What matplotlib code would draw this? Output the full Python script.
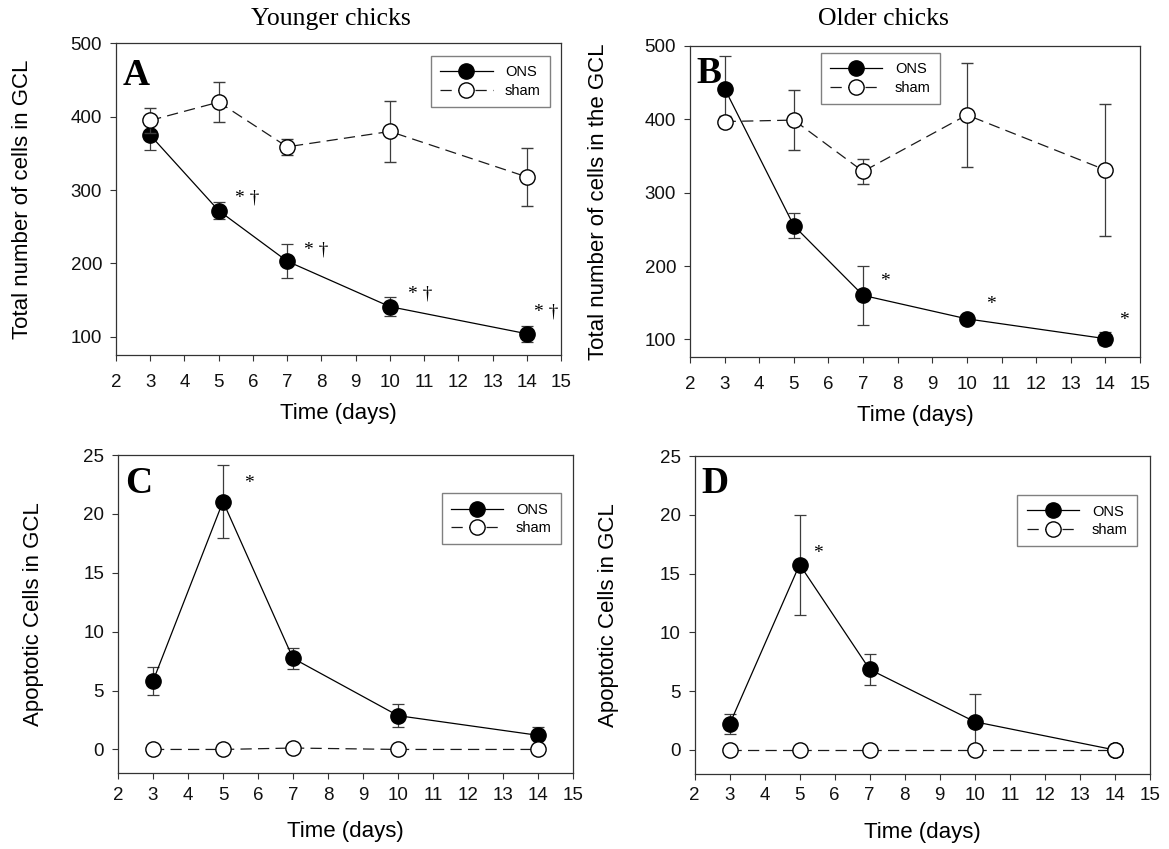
import matplotlib
matplotlib.use('Agg')
import matplotlib.pyplot as plt

plt.rcParams['font.family'] = ['Liberation Sans', 'DejaVu Sans']

days = [3, 5, 7, 10, 14]
series_names = ['ONS', 'sham']

# A - younger chicks, total cells
a_ons = [375, 272, 203, 141, 104]
a_ons_err = [20, 12, 23, 13, 11]
a_sham = [395, 420, 359, 380, 318]
a_sham_err = [17, 27, 11, 41, 40]
a_marks = ['', '* \u2020', '* \u2020', '* \u2020', '* \u2020']

# B - older chicks, total cells
b_ons = [442, 255, 160, 128, 101]
b_ons_err = [44, 17, 40, 5, 9]
b_sham = [397, 399, 329, 406, 331]
b_sham_err = [8, 41, 17, 71, 90]
b_marks = ['', '', '*', '*', '*']

# C - younger chicks, apoptotic cells
c_ons = [5.8, 21.05, 7.74, 2.87, 1.2]
c_ons_err = [1.2, 3.1, 0.9, 0.95, 0.7]
c_sham = [0, 0, 0.12, 0, 0]
c_sham_err = [0, 0, 0, 0, 0]
c_marks = ['', '*', '', '', '']

# D - older chicks, apoptotic cells
d_ons = [2.17, 15.77, 6.85, 2.4, 0]
d_ons_err = [0.85, 4.25, 1.35, 2.4, 0]
d_sham = [0, 0, 0, 0, 0]
d_sham_err = [0, 0, 0, 0, 0]
d_marks = ['', '*', '', '', '']

W, H = 1169, 849
fig = plt.figure(figsize=(W / 100, H / 100), dpi=100)

axA = fig.add_axes([116 / W, 1 - 355 / H, 445 / W, 311.5 / H])
axB = fig.add_axes([690 / W, 1 - 357 / H, 450 / W, 311 / H])
axC = fig.add_axes([118 / W, 1 - 773 / H, 455 / W, 318 / H])
axD = fig.add_axes([694.5 / W, 1 - 773.5 / H, 455.5 / W, 317.5 / H])

edge = '#333333'
bar_col = '#3c3c3c'
serif = 'Liberation Serif'


def draw_panel(ax, ons, ons_err, sham, sham_err, marks, mark_off, ylim, yticks,
               letter, letter_y, ylabel, ylab_x, leg_xy, tick_pad, ax_h):
    e1 = ax.errorbar(days, ons, yerr=ons_err, color='black', lw=0.9, marker='o',
                     ms=11, mfc='black', mec='black', ecolor=bar_col,
                     elinewidth=0.9, capsize=4.5, capthick=0.9, zorder=3)
    e2 = ax.errorbar(days, sham, yerr=sham_err, color='#1a1a1a', lw=0.9,
                     linestyle=(0, (9, 5)), marker='o', ms=11, mfc='white',
                     mec='black', mew=1.0, ecolor=bar_col, elinewidth=0.9,
                     capsize=4.5, capthick=0.9, zorder=4)
    for x, y, m, off in zip(days, ons, marks, mark_off):
        if m:
            ax.annotate(m, (x, y), xytext=off, textcoords='offset points',
                        ha='left', va='center', fontsize=14, family=serif,
                        zorder=6)
    ax.set_xlim(2, 15)
    ax.set_ylim(*ylim)
    ax.set_xticks(range(2, 16))
    ax.set_yticks(yticks)
    for s in ax.spines.values():
        s.set_color(edge)
        s.set_linewidth(0.9)
    ax.tick_params(direction='out', length=4, width=0.8, color=edge,
                   labelsize=13.5, labelcolor='#111111')
    ax.tick_params(axis='x', pad=tick_pad)
    ax.tick_params(axis='y', pad=6)
    ax.set_xlabel('Time (days)', fontsize=16, va='center')
    ax.xaxis.set_label_coords(0.5, -59 / ax_h)
    ax.set_ylabel(ylabel, fontsize=16, va='center')
    ax.yaxis.set_label_coords(ylab_x, 0.5)
    ax.text(0.015, letter_y, letter, transform=ax.transAxes, fontsize=27,
            fontweight='bold', family=serif, va='baseline', ha='left', zorder=7)
    leg = ax.legend([e1[0], e2[0]], series_names, loc='upper left',
                    bbox_to_anchor=leg_xy, borderaxespad=0, fontsize=10.5,
                    handlelength=3.6, handletextpad=0.85, borderpad=0.65,
                    labelspacing=0.3, numpoints=1, fancybox=False,
                    framealpha=1, edgecolor='#808080')
    leg.get_frame().set_linewidth(1.0)
    leg.set_zorder(8)


draw_panel(axA, a_ons, a_ons_err, a_sham, a_sham_err, a_marks,
           [None, (12, 9), (12, 8), (13, 9), (5, 16)],
           (75, 500), [100, 200, 300, 400, 500], 'A', 0.867,
           'Total number of cells in GCL', -0.210, (0.707, 0.960), 10, 311.5)
draw_panel(axB, b_ons, b_ons_err, b_sham, b_sham_err, b_marks,
           [None, None, (12, 10), (14, 10), (10, 13)],
           (76, 500), [100, 200, 300, 400, 500], 'B', 0.881,
           'Total number of cells in the GCL', -0.204, (0.290, 0.978), 10, 311)
draw_panel(axC, c_ons, c_ons_err, c_sham, c_sham_err, c_marks,
           [None, (15, 13), None, None, None],
           (-2, 25), [0, 5, 10, 15, 20, 25], 'C', 0.88,
           'Apoptotic Cells in GCL', -0.185, (0.711, 0.880), 6, 318)
draw_panel(axD, d_ons, d_ons_err, d_sham, d_sham_err, d_marks,
           [None, (10, 8), None, None, None],
           (-2, 25), [0, 5, 10, 15, 20, 25], 'D', 0.883,
           'Apoptotic Cells in GCL', -0.188, (0.709, 0.877), 6, 317.5)

fig.text(331 / W, 1 - 25 / H, 'Younger chicks', ha='center', va='baseline',
         fontsize=18.5, family=serif)
fig.text(883 / W, 1 - 25 / H, 'Older chicks', ha='center', va='baseline',
         fontsize=18.5, family=serif)

fig.savefig('out.png', dpi=100)
